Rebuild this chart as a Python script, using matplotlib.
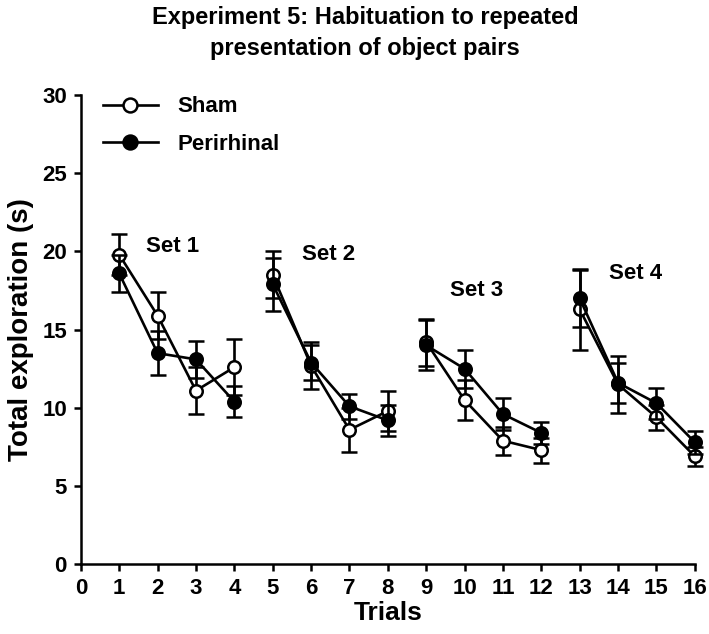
import matplotlib
matplotlib.use("Agg")
import matplotlib.pyplot as plt
from matplotlib.lines import Line2D
import numpy as np

# trials, grouped in four sets of four
trials = np.arange(1, 17)
sets = [(0, 4), (4, 8), (8, 12), (12, 16)]

sham_mean = [19.8, 15.9, 11.1, 12.6,
             18.5, 12.7, 8.6, 9.8,
             14.2, 10.5, 7.9, 7.3,
             16.3, 11.5, 9.4, 6.9]
sham_err = [1.3, 1.5, 1.5, 1.8,
            1.5, 1.5, 1.4, 1.3,
            1.5, 1.3, 0.9, 0.8,
            2.6, 1.8, 0.8, 0.6]

peri_mean = [18.6, 13.5, 13.1, 10.4,
             17.9, 12.9, 10.1, 9.2,
             14.0, 12.5, 9.6, 8.4,
             17.0, 11.6, 10.3, 7.8]
peri_err = [1.2, 1.4, 1.2, 1.0,
            1.7, 1.1, 0.8, 1.0,
            1.6, 1.2, 1.0, 0.7,
            1.8, 1.3, 1.0, 0.75]

set_labels = ["Set 1", "Set 2", "Set 3", "Set 4"]
set_label_pos = [(2.4, 20.3), (6.45, 19.8), (10.3, 17.5), (14.45, 18.6)]

FONT = ["Liberation Sans", "DejaVu Sans"]
plt.rcParams["font.family"] = FONT
plt.rcParams["font.weight"] = "bold"

fig = plt.figure(figsize=(7.09, 6.34), dpi=100)
ax = fig.add_axes([0.114, 0.110, 0.866, 0.740])

lw = 1.9
ms = 9
groups = [("Sham", sham_mean, sham_err, "white"),
          ("Perirhinal", peri_mean, peri_err, "black")]

for name, mean, err, face in groups:
    mean = np.array(mean)
    err = np.array(err)
    for a, b in sets:
        ax.errorbar(trials[a:b], mean[a:b], yerr=err[a:b], color="black",
                    lw=lw, elinewidth=lw, capsize=5.5, capthick=lw,
                    marker="o", ms=ms, mfc=face, mec="black", mew=1.8,
                    clip_on=False, zorder=3 if face == "white" else 4)

for lab, (x, y) in zip(set_labels, set_label_pos):
    ax.text(x, y, lab, ha="center", va="center", fontsize=16,
            fontweight="bold")

ax.set_xlim(0, 16)
ax.set_ylim(0, 30)
ax.set_xticks(range(0, 17))
ax.set_yticks(range(0, 31, 5))
ax.spines["top"].set_visible(False)
ax.spines["right"].set_visible(False)
ax.spines["left"].set_linewidth(1.8)
ax.spines["bottom"].set_linewidth(1.8)
ax.tick_params(direction="out", length=5, width=1.8, labelsize=16, pad=5)
for t in ax.get_xticklabels() + ax.get_yticklabels():
    t.set_fontweight("bold")

ax.set_xlabel("Trials", fontsize=19, fontweight="bold", labelpad=1)
ax.set_ylabel("Total exploration (s)", fontsize=20, fontweight="bold",
              labelpad=6)

fig.text(0.515, 0.99, "Experiment 5: Habituation to repeated\npresentation of object pairs",
         ha="center", va="top", fontsize=17, fontweight="bold",
         linespacing=1.45)

handles = [Line2D([], [], color="black", lw=lw, marker="o", ms=ms + 1,
                  mfc=face, mec="black", mew=1.8)
           for _, _, _, face in groups]
ax.legend(handles, [g[0] for g in groups], loc="upper left",
          bbox_to_anchor=(0.003, 1.04), frameon=False,
          handlelength=2.5, handletextpad=0.85, labelspacing=0.75,
          prop={"weight": "bold", "size": 16})

fig.savefig("out.png", dpi=100)
